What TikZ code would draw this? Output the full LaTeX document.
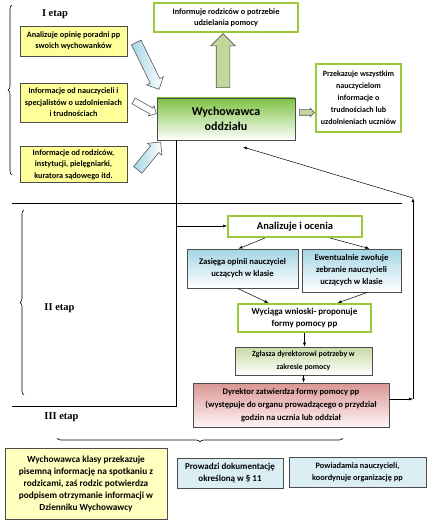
\documentclass[tikz,border=0pt]{standalone}
\usepackage{fontspec}
\setmainfont{Carlito}
\newfontfamily\etapfont{Liberation Serif}
\usepackage{tikz}
\usetikzlibrary{arrows.meta}
\usetikzlibrary{shapes.arrows}
\usetikzlibrary{decorations.pathreplacing}

\definecolor{limeline}{HTML}{9BC83A}
\definecolor{yellowbox}{HTML}{FFFF99}
\definecolor{paleyellow}{HTML}{FFFFBF}
\definecolor{bluetop}{HTML}{A5D5E6}
\definecolor{paleblue}{HTML}{DAEEF3}
\definecolor{wychgreen}{HTML}{7DC242}
\definecolor{olivetop}{HTML}{C9D9A6}
\definecolor{redtop}{HTML}{D99694}
\definecolor{arrowfill}{HTML}{C3D69B}

\newcommand\boxfont[2]{\fontsize{#1}{#2}\selectfont\bfseries}

\begin{document}
\begin{tikzpicture} [x=1pt, y=-1pt,
  box/.style={draw=black!70, line width=.7pt, align=center, inner sep=1pt},
  ybox/.style={box, fill=yellowbox},
  gbox/.style={draw=limeline, line width=2pt, fill=white, align=center, inner sep=1pt},
  bbox/.style={box, top color=bluetop, bottom color=white},
  lbox/.style={box, fill=paleblue},
  etap/.style={font=\etapfont\bfseries\fontsize{10.5}{12}\selectfont},
  blk/.style={single arrow, draw=black!65, line width=.6pt, inner xsep=0pt, single arrow head indent=0pt},
  flow/.style={-{Latex[length=4pt,width=3pt]}, line width=.5pt},
  brc/.style={decorate, decoration={brace, amplitude=4pt}, line width=.6pt}]

\useasboundingbox (0,0) rectangle (432,524);

\node[etap] (e1) at (55,14) {I etap};
\node[etap] (e2) at (59.5,308) {II etap};
\node[etap] (e3) at (61.5,417) {III etap};

\node[ybox, minimum width=107, minimum height=30, font=\boxfont{8.2}{11.5}] (opinia) at (73.5,41) {Analizuje opinię poradni pp\\swoich wychowanków};
\node[ybox, minimum width=107, minimum height=39, font=\boxfont{8.2}{11.5}] (naucz) at (73.5,102.5) {Informacje od nauczycieli i\\specjalistów o uzdolnieniach\\i trudnościach};
\node[ybox, minimum width=107, minimum height=36, font=\boxfont{8.2}{11.5}] (rodz) at (73.5,164.5) {Informacje od rodziców,\\instytucji, pielęgniarki,\\kuratora sądowego itd.};

\node[gbox, minimum width=144, minimum height=29, font=\boxfont{8.2}{11}] (inform) at (226,17.5) {Informuje rodziców o potrzebie\\udzielania pomocy};
\node[box, top color=wychgreen, bottom color=white, minimum width=138, minimum height=42, font=\boxfont{12}{15}] (wych) at (226,119) {Wychowawca\\oddziału};
\node[gbox, minimum width=85, minimum height=68, font=\boxfont{8}{12}] (przek) at (358.5,98) {Przekazuje wszystkim\\nauczycielom\\informacje o\\trudnościach lub\\uzdolnieniach uczniów};

\node[blk, left color=bluetop, right color=white, minimum height=52, inner ysep=5, single arrow head extend=4, rotate=-64] (b1) at (146.5,63.5) {};
\node[blk, fill=white, minimum height=26, inner ysep=3, single arrow head extend=2.5, rotate=-29.5] (b2) at (143.5,106.5) {};
\node[blk, left color=bluetop, right color=white, minimum height=36, inner ysep=5, single arrow head extend=4, rotate=50.6] (b3) at (147.5,158) {};
\node[blk, fill=arrowfill, minimum height=54, inner ysep=6.5, single arrow head extend=5.5, rotate=90] (bup) at (223,64) {};
\node[blk, fill=arrowfill, minimum height=15, inner ysep=2.5, single arrow head extend=1.5] (bright) at (305.5,112.5) {};

\draw[brc] (12,175) -- (12,5);
\draw[brc] (24,395) -- (24,210);
\draw[brc] (343,438) -- (57,438);
\draw[line width=.6pt] (12,203) -- (402,203);

\node[gbox, minimum width=134, minimum height=21, font=\boxfont{10.5}{13}] (anal) at (295,226.5) {Analizuje i ocenia};
\node[bbox, minimum width=111, minimum height=39, font=\boxfont{8.6}{12}] (zas) at (242.5,268.5) {Zasięga opinii nauczyciel\\uczących w klasie};
\node[bbox, minimum width=99, minimum height=43, font=\boxfont{8.6}{12}] (ewe) at (351.5,270.5) {Ewentualnie zwołuje\\zebranie nauczycieli\\uczących w klasie};
\node[gbox, minimum width=133, minimum height=28, font=\boxfont{9}{12}] (wyc) at (304.5,318) {Wyciąga wnioski- proponuje\\formy pomocy pp};
\node[box, top color=olivetop, bottom color=white, minimum width=137, minimum height=28, font=\boxfont{7.8}{13}] (zgl) at (303.5,361) {Zgłasza dyrektorowi potrzeby w\\zakresie pomocy};
\node[box, top color=redtop, bottom color=red!4, minimum width=196, minimum height=44, font=\boxfont{8.6}{13}] (dyr) at (291,405) {Dyrektor zatwierdza formy pomocy pp\\(występuje do organu prowadzącego o przydział\\godzin na ucznia lub oddział};

\node[box, fill=paleyellow, minimum width=162, minimum height=71, font=\boxfont{9.3}{12}] (pisem) at (86,483.5) {Wychowawca klasy przekazuje\\pisemną informację na spotkaniu z\\rodzicami, zaś rodzic potwierdza\\podpisem otrzymanie informacji w\\Dzienniku Wychowawcy};
\node[lbox, minimum width=106, minimum height=30, font=\boxfont{9}{12}] (dok) at (230,473) {Prowadzi dokumentację\\określoną w § 11};
\node[lbox, minimum width=137, minimum height=30, font=\boxfont{8.3}{12}] (powiad) at (357.5,472) {Powiadamia nauczycieli,\\koordynuje organizację pp};

\coordinate (trunk) at (176,226);
\coordinate (foot) at (176,406);
\coordinate (rbot) at (413,399);
\coordinate (rtop) at (413,198);
\coordinate (back) at (243,147);

\draw[line width=.6pt] (wych.south west -| foot) -- (foot) -- (12,406);
\draw[flow] (trunk) -- (trunk -| anal.west);
\draw[flow] ([xshift=-30pt]anal.south) -- ([xshift=-4pt]zas.north);
\draw[flow] ([xshift=35pt]anal.south) -- ([xshift=18pt]ewe.north);
\draw[flow] ([xshift=-5pt]zas.south) -- ([xshift=-36pt]wyc.north);
\draw[flow] ([xshift=16pt]ewe.south) -- ([xshift=33pt]wyc.north);
\foreach \a/\b in {wyc/zgl, zgl/dyr} {
 \draw[flow] (\a.south) -- (\a.south |- \b.north);
};
\draw[flow] (dyr.east |- rbot) -- (rbot);
\draw[flow] (rbot) -- (rtop);
\draw[flow] (rtop) -- (back);

\end{tikzpicture}
\end{document}
